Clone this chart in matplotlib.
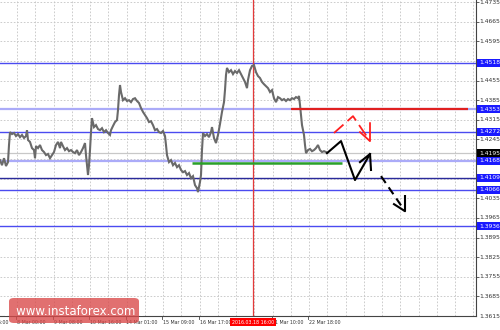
import matplotlib
matplotlib.use("Agg")
import matplotlib.pyplot as plt
from matplotlib.patches import FancyBboxPatch
import matplotlib.transforms as mtransforms

# ---------------- data ----------------
bar_x = [0, 2, 4, 6, 8, 9, 10, 12, 14, 16, 18, 20, 22, 24, 26, 27, 28, 30, 32, 34, 35, 36, 38, 40, 42, 44, 46, 48, 50, 52,
         54, 56, 58, 60, 61, 63, 65, 67, 69, 71, 73, 75, 77, 79, 81, 83, 85, 86, 88, 89, 90, 91, 92, 94, 96, 98, 100, 102, 104, 106,
         108, 110, 111, 113, 115, 117, 118, 119, 120, 121, 123, 125, 127, 129, 131, 133, 135, 137, 139, 141, 143, 145, 147, 149, 151, 153, 155, 157, 159, 161,
         163, 165, 166, 167, 169, 171, 173, 175, 177, 179, 181, 183, 185, 187, 189, 191, 193, 195, 197, 198, 200, 201, 202, 203, 205, 207, 209, 211, 212, 214,
         216, 218, 220, 222, 224, 225, 226, 227, 229, 231, 233, 235, 237, 239, 241, 243, 245, 247, 248, 250, 252, 254, 256, 258, 260, 262, 264, 266, 268, 270,
         272, 274, 276, 278, 280, 282, 284, 286, 288, 290, 292, 294, 296, 298, 299, 300, 301, 302, 304, 305, 306, 308, 310, 312, 314, 316, 318, 320, 322, 324, 326]
price = [1.4171, 1.4153, 1.4178, 1.4150, 1.4164, 1.4225, 1.4271, 1.4264, 1.4268, 1.4257, 1.4264, 1.4253, 1.4261, 1.4250, 1.4257, 1.4278, 1.4243, 1.4236, 1.4214, 1.4207,
         1.4178, 1.4221, 1.4214, 1.4225, 1.4207, 1.4200, 1.4189, 1.4193, 1.4178, 1.4189, 1.4200, 1.4225, 1.4236, 1.4214, 1.4236, 1.4221, 1.4207, 1.4214, 1.4203, 1.4207,
         1.4200, 1.4196, 1.4207, 1.4189, 1.4200, 1.4214, 1.4232, 1.4189, 1.4118, 1.4153, 1.4207, 1.4271, 1.4321, 1.4289, 1.4296, 1.4282, 1.4278, 1.4285, 1.4271, 1.4278,
         1.4268, 1.4261, 1.4278, 1.4293, 1.4307, 1.4314, 1.4350, 1.4403, 1.4439, 1.4414, 1.4385, 1.4392, 1.4382, 1.4385, 1.4378, 1.4389, 1.4392, 1.4382, 1.4375, 1.4357,
         1.4343, 1.4332, 1.4321, 1.4307, 1.4310, 1.4296, 1.4278, 1.4282, 1.4271, 1.4268, 1.4275, 1.4257, 1.4225, 1.4189, 1.4164, 1.4171, 1.4153, 1.4161, 1.4146, 1.4153,
         1.4136, 1.4128, 1.4132, 1.4118, 1.4125, 1.4107, 1.4114, 1.4082, 1.4071, 1.4057, 1.4093, 1.4118, 1.4207, 1.4268, 1.4257, 1.4264, 1.4253, 1.4271, 1.4289, 1.4250,
         1.4232, 1.4261, 1.4300, 1.4343, 1.4378, 1.4421, 1.4475, 1.4500, 1.4485, 1.4492, 1.4478, 1.4489, 1.4482, 1.4492, 1.4478, 1.4464, 1.4450, 1.4428, 1.4457, 1.4492,
         1.4507, 1.4510, 1.4485, 1.4471, 1.4464, 1.4450, 1.4442, 1.4435, 1.4428, 1.4414, 1.4421, 1.4392, 1.4378, 1.4396, 1.4392, 1.4385, 1.4389, 1.4382, 1.4389, 1.4385,
         1.4392, 1.4389, 1.4396, 1.4392, 1.4400, 1.4368, 1.4332, 1.4296, 1.4261, 1.4225, 1.4196, 1.4207, 1.4211, 1.4203, 1.4207, 1.4214, 1.4225, 1.4207, 1.4200, 1.4203, 1.4200]

blue_levels = [1.4518, 1.4272, 1.4066, 1.3936]
dark_levels = [1.4109]
light_levels = [1.4353, 1.4168]
current_price = 1.4195
red_level = 1.4353
green_level = 1.4162
price_ticks = [1.4735, 1.4665, 1.4595, 1.4455, 1.4385, 1.4315, 1.4245, 1.4035, 1.3965, 1.3895, 1.3825, 1.3755, 1.3685, 1.3615]
grid_prices = [1.4735, 1.4665, 1.4595, 1.4525, 1.4455, 1.4385, 1.4315, 1.4245, 1.4175, 1.4105, 1.4035, 1.3965, 1.3895, 1.3825, 1.3755, 1.3685]
box_labels = [1.4518, 1.4353, 1.4272, 1.4168, 1.4109, 1.4066, 1.3936]

date_labels = ["4 Mar 16:00", "8 Mar 00:00", "9 Mar 08:00", "10 Mar 16:00", "14 Mar 01:00", "15 Mar 09:00",
               "16 Mar 17:00", "21 Mar 10:00", "22 Mar 18:00"]
date_pos = [-20.5, 16, 52.5, 89, 125.5, 162, 198.5, 271.5, 308]
marker_label = "2016.03.18 16:00"
marker_x = 253

# scenario arrows (x, price)
zig_x = [327, 341, 355, 370]
zig_p = [1.4196, 1.4239, 1.4100, 1.4193]
zig_head_x = [360, 370, 371]
zig_head_p = [1.4164, 1.4193, 1.4136]
dash_x = [381, 405]
dash_p = [1.4114, 1.3989]
dash_head_x = [394, 405, 405]
dash_head_p = [1.4014, 1.3989, 1.4043]
red_x = [334, 353, 370]
red_p = [1.4268, 1.4328, 1.4239]
red_head_x = [360, 370, 370]
red_head_p = [1.4271, 1.4239, 1.4303]

# ---------------- figure ----------------
W, H = 500, 330
fig = plt.figure(figsize=(W / 100, H / 100), dpi=100)
fig.patch.set_facecolor("white")
ax = fig.add_axes([0, 14 / H, 476 / W, 316 / H])
ax.set_xlim(0, 476)
ax.set_ylim(1.3615, 1.47424)

grid_col = "#c4c4c4"
for gp in grid_prices:
    ax.axhline(gp, color=grid_col, lw=0.6, ls=(0, (2, 2)), zorder=0)
gx = 17
while gx < 476:
    ax.axvline(gx, color=grid_col, lw=0.6, ls=(0, (2, 2)), zorder=0)
    gx += 18.25

for lv in blue_levels:
    ax.axhline(lv, color="#4b4bf0", lw=1.0, zorder=2)
for lv in dark_levels:
    ax.axhline(lv, color="#2a2a9a", lw=1.0, zorder=2)
for lv in light_levels:
    ax.axhline(lv, color="#ababf8", lw=1.6, zorder=2)
ax.axhline(current_price, color="#c8c8c8", lw=0.9, zorder=2)

ax.axvline(marker_x, color="#e33a3a", lw=0.9, zorder=3)

ax.plot(bar_x, price, color="#6a6a6a", lw=1.5, solid_joinstyle="miter", zorder=4)

ax.hlines(red_level, 291, 468, color="#e02020", lw=1.6, zorder=5)
ax.hlines(green_level, 192, 342, color="#2aa02a", lw=1.8, zorder=5)

ax.plot(zig_x, zig_p, color="black", lw=1.5, zorder=6)
ax.plot(zig_head_x, zig_head_p, color="black", lw=1.5, zorder=6)
ax.plot(dash_x, dash_p, color="black", lw=1.5, ls=(0, (4, 2.5)), zorder=6)
ax.plot(dash_head_x, dash_head_p, color="black", lw=1.5, zorder=6)
ax.plot(red_x, red_p, color="#ff2020", lw=1.3, ls=(0, (7, 3)), zorder=6)
ax.plot(red_head_x, red_head_p, color="#ff2020", lw=1.3, zorder=6)

for s in ["top", "left"]:
    ax.spines[s].set_visible(False)
ax.spines["right"].set_color("#444444")
ax.spines["bottom"].set_color("#444444")
ax.spines["right"].set_linewidth(0.8)
ax.spines["bottom"].set_linewidth(0.8)
ax.set_xticks([])
ax.yaxis.tick_right()
ax.set_yticks(grid_prices)
ax.set_yticklabels([])
ax.tick_params(axis="y", length=2, width=0.6, color="#444444")

ytrans = mtransforms.blended_transform_factory(ax.transAxes, ax.transData)
fs = 4.3
for t in price_ticks:
    ax.text(1.006, t, f"{t:.4f}", transform=ytrans, fontsize=fs, color="#333333",
            va="center", ha="left", clip_on=False)
for t in box_labels:
    ax.text(1.006, t, f"{t:.4f}", transform=ytrans, fontsize=fs, color="white",
            va="center", ha="left", clip_on=False,
            bbox=dict(boxstyle="square,pad=0.25", fc="#1a1aff", ec="none"))
ax.text(1.006, current_price, f"{current_price:.4f}", transform=ytrans, fontsize=fs, color="white",
        va="center", ha="left", clip_on=False,
        bbox=dict(boxstyle="square,pad=0.25", fc="black", ec="none"))

xtrans = mtransforms.blended_transform_factory(ax.transData, ax.transAxes)
for lab, xp in zip(date_labels, date_pos):
    ax.plot([xp, xp], [0, -0.008], color="#444444", lw=0.6, transform=xtrans, clip_on=False)
    ax.text(xp + 1, -0.012, lab, transform=xtrans, fontsize=3.4, color="#333333",
            va="top", ha="left", clip_on=False)
ax.text(marker_x, -0.012, marker_label, transform=xtrans, fontsize=3.4, color="white",
        va="top", ha="center", clip_on=False, zorder=10,
        bbox=dict(boxstyle="square,pad=0.3", fc="#ff0000", ec="none"))

# watermark
wm = FancyBboxPatch((9 / W, 7 / H), 130 / W, 25 / H, boxstyle="round,pad=0,rounding_size=0.01",
                    transform=fig.transFigure, fc="#d94848", ec="none", alpha=0.78, zorder=20)
fig.patches.append(wm)
fig.text(74 / W, 19.5 / H, "[  www.instaforex.com ]", color="white", fontsize=8.5,
         ha="center", va="center", zorder=21)

fig.savefig("out.png", dpi=100, facecolor="white")
